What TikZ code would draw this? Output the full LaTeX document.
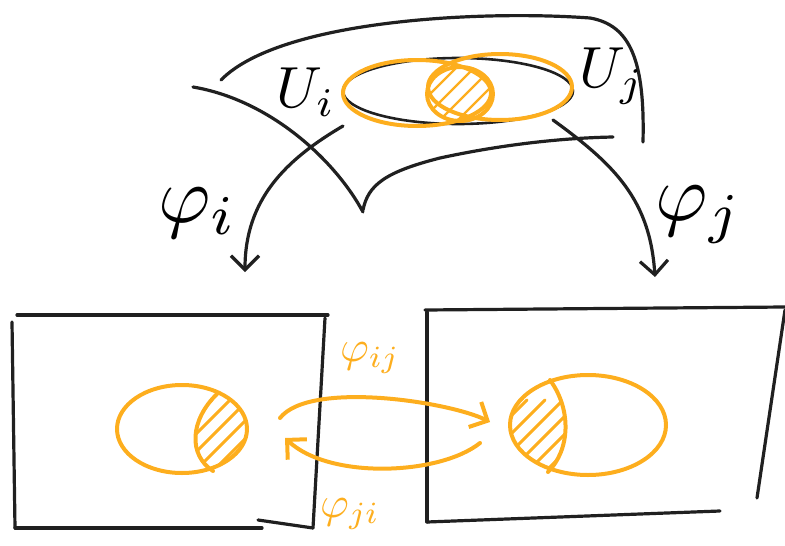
\documentclass[tikz,border=0pt]{standalone}
\usepackage{amsmath,amssymb}
\usepackage{tikz}
\usetikzlibrary{arrows.meta}
\usepackage{xcolor}
\definecolor{myorange}{RGB}{253,174,30}
\definecolor{myblack}{RGB}{32,32,32}

\begin{document}
\begin{tikzpicture}[x=1pt,y=-1pt,line cap=round,line join=round,
    pen/.style={myblack,line width=3.2pt},
    hl/.style={myorange,line width=4pt},
    hatch/.style={myorange,line width=3pt},
    barb/.style={-{Straight Barb[length=14pt,width=28pt]}},
    lbl/.style={inner sep=0pt}]
  \useasboundingbox (0,0) rectangle (785,546);

  % Manifold
  \draw[pen] (221,80) .. controls (280,20) and (480,10) .. (590,18)
             .. controls (630,25) and (645,60) .. (643,142);
  \draw[pen] (193,87) .. controls (270,100) and (335,160) .. (363,212);
  \draw[pen] (363,210) .. controls (368,185) and (385,172) .. (440,158)
             .. controls (500,145) and (560,138) .. (613,137);
  \draw[pen,line width=2.6pt] (458,91) ellipse [x radius=115pt,y radius=33pt];

  % Overlap U_i and U_j
  \draw[hl] (417,93) ellipse [x radius=74pt,y radius=33pt];
  \draw[hl] (500,87) ellipse [x radius=72pt,y radius=33pt];
  \begin{scope}
    \clip (460,94) ellipse [x radius=33pt,y radius=27pt];
    \foreach \d in {-54,-36,...,54}
      \draw[hatch,line width=2.4pt] (430+\d,130) -- (500+\d,60);
  \end{scope}
  \draw[hl] (460,94) ellipse [x radius=33pt,y radius=27pt];
  \node[lbl,scale=5.8] (Ui) at (306,92) {$U_i$};
  \node[lbl,scale=5.8] (Uj) at (612,76) {$U_j$};

  % Charts
  \coordinate (si) at (343,126);
  \coordinate (ti) at (245,272);
  \coordinate (sj) at (553,120);
  \coordinate (tj) at (655,277);
  \draw[pen,barb] (si) .. controls (285,160) and (245,200) .. (ti);
  \draw[pen,barb] (sj) .. controls (615,165) and (650,200) .. (tj);
  \node[lbl,scale=8] (phii) at (198,213) {$\varphi_i$};
  \node[lbl,scale=8] (phij) at (699,215) {$\varphi_j$};

  % Chart i
  \draw[pen] (17,315) -- (328,315);
  \draw[pen] (325,318) -- (313,528);
  \draw[pen] (15,528) -- (262,528);
  \draw[pen] (258,520) -- (313,528);
  \draw[pen] (12,322) -- (15,528);
  \begin{scope}
    \clip (182,429) ellipse [x radius=65pt,y radius=44pt];
    \clip (217,394) .. controls (190,420) and (188,455) .. (213,471)
          -- (260,471) -- (260,394) -- cycle;
    \foreach \d in {-48,-30,...,48}
      \draw[hatch] (190+\d,470) -- (260+\d,400);
  \end{scope}
  \draw[hl] (182,429) ellipse [x radius=65pt,y radius=44pt];
  \draw[hl] (217,394) .. controls (190,420) and (188,455) .. (213,471);

  % Chart j
  \draw[pen] (425,310) -- (785,307);
  \draw[pen] (427,312) -- (427,522);
  \draw[pen] (427,522) -- (720,511);
  \draw[pen] (785,310) -- (757,498);
  \begin{scope}
    \clip (588,425) ellipse [x radius=78pt,y radius=50pt];
    \clip (550,380) .. controls (572,410) and (570,450) .. (548,472)
          -- (500,472) -- (500,380) -- cycle;
    \foreach \d in {-48,-30,...,48}
      \draw[hatch] (505+\d,470) -- (575+\d,400);
  \end{scope}
  \draw[hl] (588,425) ellipse [x radius=78pt,y radius=50pt];
  \draw[hl] (550,380) .. controls (572,410) and (570,450) .. (548,472);

  % Transition maps
  \coordinate (aij) at (280,418);
  \coordinate (bij) at (490,422);
  \coordinate (aji) at (480,443);
  \coordinate (bji) at (285,438);
  \draw[hl,barb] (aij) .. controls (310,380) and (450,402) .. (bij);
  \draw[hl,barb] (aji) .. controls (440,475) and (330,480) .. (bji);
  \node[lbl,myorange,scale=4.4] (phiij) at (370,358) {$\varphi_{ij}$};
  \node[lbl,myorange,scale=4.4] (phiji) at (350,514) {$\varphi_{ji}$};
\end{tikzpicture}
\end{document}
